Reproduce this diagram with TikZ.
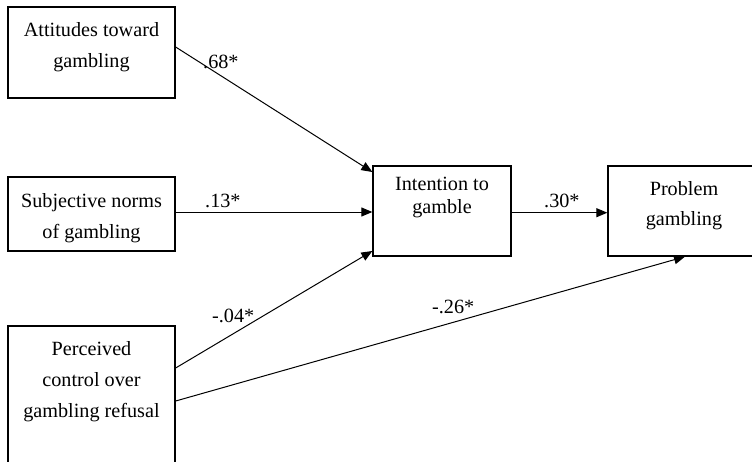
\documentclass[tikz,border=0pt]{standalone}
\usepackage{fontspec}
\setmainfont{Liberation Serif}
\usetikzlibrary{arrows.meta}
\begin{document}
\begin{tikzpicture}[x=1pt,y=-1pt,
  box/.style={draw, line width=1.3pt, inner sep=0pt, rectangle},
  txt/.style={align=center, inner sep=0pt, anchor=north, font=\fontsize{20.2}{31}\selectfont},
  lbl/.style={inner sep=0pt, anchor=base west, font=\fontsize{20.2}{24}\selectfont},
  arr/.style={-{Triangle[length=11pt,width=9pt]}, line width=1pt}]
\useasboundingbox (0,0) rectangle (752,461);
\clip (0,0) rectangle (752,461);
% boxes
\node[box, minimum width=167pt, minimum height=91pt] (att) at (91.5,52.5) {};
\node[box, minimum width=167pt, minimum height=74pt] (sub) at (91.5,214) {};
\node[box, minimum width=167pt, minimum height=154pt] (per) at (91.5,403) {};
\node[box, minimum width=138pt, minimum height=90pt] (int) at (442,211) {};
\node[box, minimum width=152pt, minimum height=90pt] (pro) at (684,211) {};
% texts
\node[txt] (attT) at (91.5,22.2) {Attitudes toward\\gambling};
\node[txt] (subT) at (91.5,193.2) {Subjective norms\\of gambling};
\node[txt] (perT) at (91.5,341.2) {Perceived\\control over\\gambling refusal};
\node[txt, font=\fontsize{20.2}{23}\selectfont] (intT) at (442,177.2) {Intention to\\gamble};
\node[txt, font=\fontsize{20.2}{30}\selectfont] (proT) at (684,181.2) {Problem\\gambling};
% connectors
\draw[arr] ([yshift=5.5pt]att.east) -- ([yshift=39pt]int.west);
\draw[arr] ([yshift=2pt]sub.east) -- ([yshift=-1pt]int.west);
\draw[arr] ([yshift=35pt]per.east) -- ([yshift=-40pt]int.west);
\draw[arr] ([yshift=2pt]per.east) -- ([xshift=1pt]pro.south);
\draw[arr] ([yshift=-1.7pt]int.east) -- ([yshift=-1.7pt]pro.west);
% coefficients
\node[lbl] (l1) at (203,68) {.68*};
\node[lbl] (l2) at (205,207) {.13*};
\node[lbl] (l3) at (544,207) {.30*};
\node[lbl] (l4) at (212,322) {-.04*};
\node[lbl] (l5) at (432,313) {-.26*};
\end{tikzpicture}
\end{document}
